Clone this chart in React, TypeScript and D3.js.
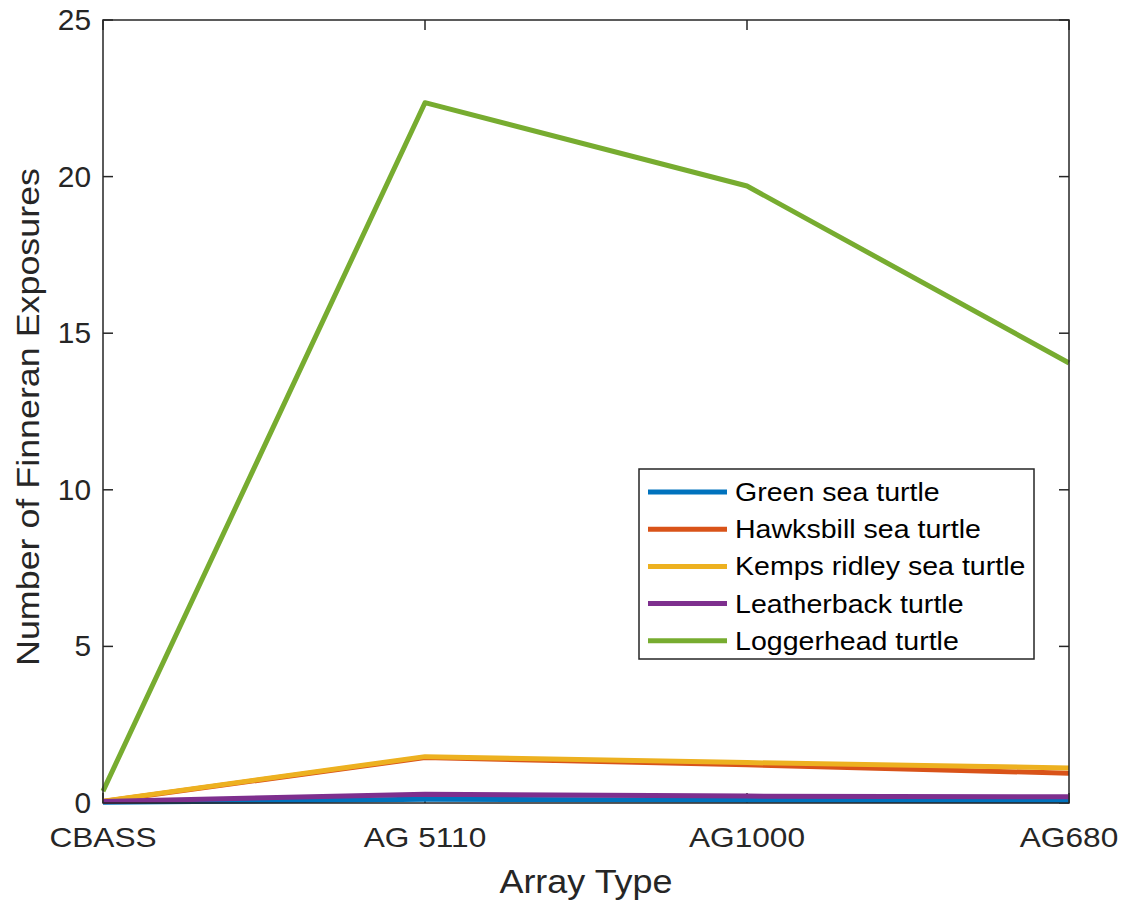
import React from "react";
import * as d3 from "d3";

const categories = ["CBASS", "AG 5110", "AG1000", "AG680"];
const seriesNames = [
  "Green sea turtle",
  "Hawksbill sea turtle",
  "Kemps ridley sea turtle",
  "Leatherback turtle",
  "Loggerhead turtle",
];
const greenValues = [0.02, 0.12, 0.09, 0.07];
const hawksbillValues = [0.05, 1.45, 1.22, 0.95];
const kempsValues = [0.06, 1.48, 1.29, 1.12];
const leatherbackValues = [0.05, 0.28, 0.22, 0.2];
const loggerheadValues = [0.38, 22.36, 19.7, 14.05];
const yTicks = [0, 5, 10, 15, 20, 25];
const colors = ["#0072BD", "#D95319", "#EDB120", "#7E2F8E", "#77AC30"];

const allValues = [greenValues, hawksbillValues, kempsValues, leatherbackValues, loggerheadValues];

function SText(props: {
  x: number;
  y: number;
  size: number;
  sx?: number;
  anchor?: "start" | "middle" | "end";
  fill: string;
  rotate?: number;
  children: React.ReactNode;
}) {
  const { x, y, size, sx = 1.12, anchor = "start", fill, rotate = 0, children } = props;
  return (
    <text
      transform={`translate(${x},${y}) rotate(${rotate}) scale(${sx},1)`}
      textAnchor={anchor}
      fontSize={size}
      fill={fill}
    >
      {children}
    </text>
  );
}

export default function App() {
  const W = 1125, H = 903;
  const left = 103, right = 1069, top = 20, bottom = 803;
  const x = d3.scalePoint<string>().domain(categories).range([left, right]);
  const y = d3.scaleLinear().domain([0, 25]).range([bottom, top]);
  const line = d3
    .line<number>()
    .x((_, i) => x(categories[i]) as number)
    .y((d) => y(d));
  const axisColor = "#262626";
  const font = "'Liberation Sans', Arial, Helvetica, sans-serif";
  const tickLen = 10;
  const legX = 639, legY = 469, legW = 395, legH = 190;
  const rowY = (i: number) => 492 + i * 37.2;
  return (
    <svg width={W} height={H} style={{ position: "absolute", left: 0, top: 0, background: "#fff" }} fontFamily={font}>
      <rect x={0} y={0} width={W} height={H} fill="#fff" />
      {/* ticks */}
      {yTicks.map((t) => (
        <g key={"yt" + t}>
          <line x1={left} x2={left + tickLen} y1={y(t)} y2={y(t)} stroke={axisColor} strokeWidth={1.5} />
          <line x1={right} x2={right - tickLen} y1={y(t)} y2={y(t)} stroke={axisColor} strokeWidth={1.5} />
          <SText x={91} y={y(t) + 10} size={29} sx={1.03} anchor="end" fill={axisColor}>
            {t}
          </SText>
        </g>
      ))}
      {categories.map((c) => (
        <g key={"xt" + c}>
          <line x1={x(c)} x2={x(c)} y1={bottom} y2={bottom - tickLen} stroke={axisColor} strokeWidth={1.5} />
          <line x1={x(c)} x2={x(c)} y1={top} y2={top + tickLen} stroke={axisColor} strokeWidth={1.5} />
          <SText x={x(c) as number} y={847} size={28} sx={1.13} anchor="middle" fill={axisColor}>
            {c}
          </SText>
        </g>
      ))}
      {/* series lines */}
      {allValues.map((vals, i) => (
        <path
          key={"s" + i}
          d={line(vals) as string}
          fill="none"
          stroke={colors[i]}
          strokeWidth={5}
          strokeLinejoin="round"
        />
      ))}
      {/* box */}
      <rect x={left} y={top} width={right - left} height={bottom - top} fill="none" stroke={axisColor} strokeWidth={1.5} />
      {/* axis labels */}
      <SText x={586} y={893} size={33} sx={1.09} anchor="middle" fill={axisColor}>
        Array Type
      </SText>
      <SText x={39} y={417} size={32} sx={1.12} rotate={-90} anchor="middle" fill={axisColor}>
        Number of Finneran Exposures
      </SText>
      {/* legend */}
      <rect x={legX} y={legY} width={legW} height={legH} fill="#fff" stroke={axisColor} strokeWidth={1.5} />
      {seriesNames.map((n, i) => (
        <g key={"l" + i}>
          <line x1={648} x2={727} y1={rowY(i)} y2={rowY(i)} stroke={colors[i]} strokeWidth={5} />
          <SText x={735} y={rowY(i) + 9} size={25.5} sx={1.12} fill="#000">
            {n}
          </SText>
        </g>
      ))}
    </svg>
  );
}
